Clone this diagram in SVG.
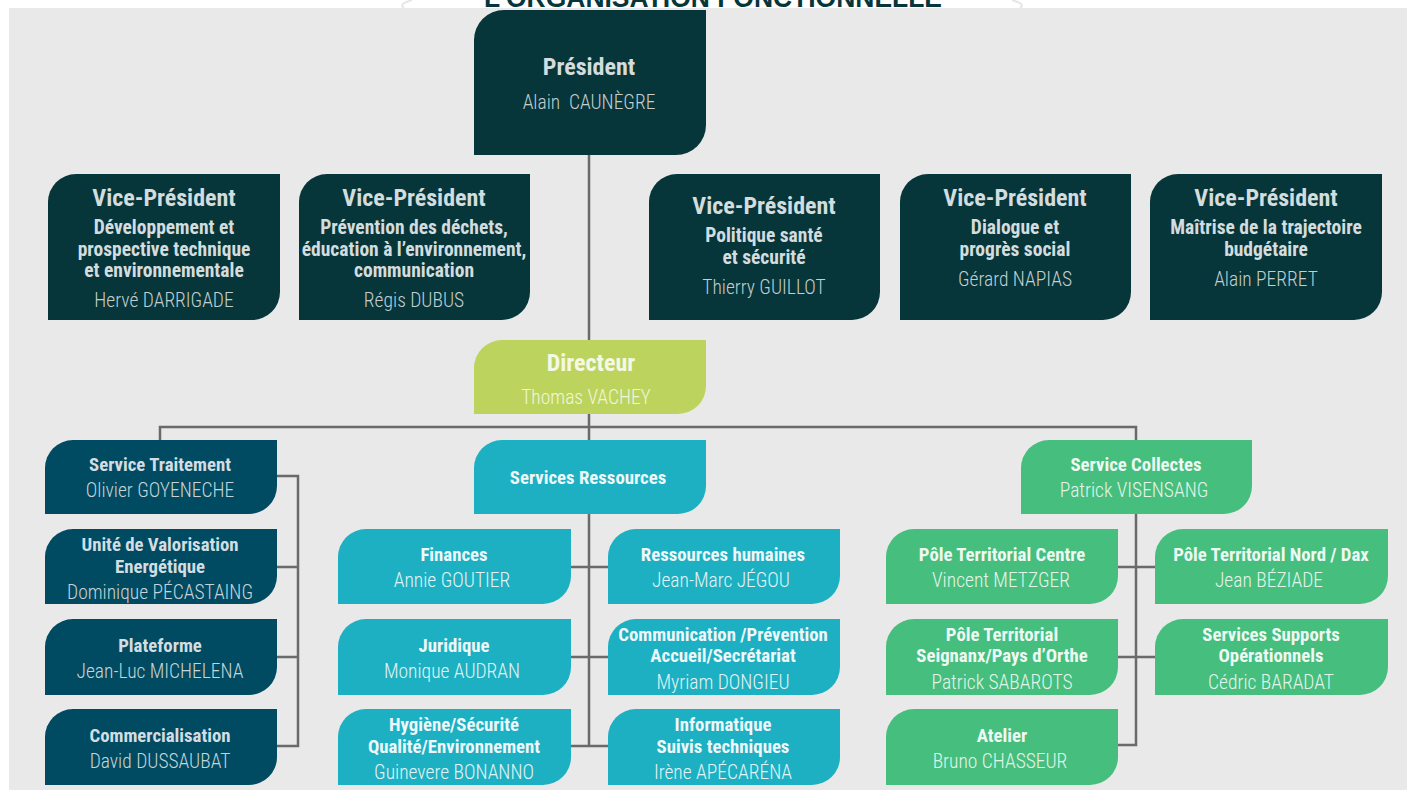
<svg xmlns="http://www.w3.org/2000/svg" width="1407" height="796" viewBox="0 0 1407 796">
<style>
text{font-family:"Liberation Sans Narrow","Roboto Condensed","Liberation Sans",Arial,sans-serif;text-anchor:middle}
.t{font-weight:bold;font-size:24px}
.s{font-weight:bold;font-size:18.8px}
.vp .s{font-size:19.5px}
.n{font-size:19.5px;font-weight:300}
.vp path,.pres path{fill:#07363a}
.vp .t,.vp .s,.pres .t{fill:#d3dcde}
.vp .n,.pres .n{fill:#c3ced0}
.trt path{fill:#004b61}
.trt .s{fill:#d3dde2}
.trt .n{fill:#c7d3d8}
.res path{fill:#1cb0c2}
.res .s{fill:#eef8fa}
.res .n{fill:#e2f3f6}
.col path{fill:#46be7e}
.col .s{fill:#eef9f3}
.col .n{fill:#e3f5ea}
.dir path{fill:#bcd45e}
.dir .t{fill:#f4f8e6}
.dir .n{fill:#f0f6dc}
.conn{fill:none;stroke:#6a6a6a;stroke-width:2.5}
.title{font-family:"Liberation Sans",Arial,sans-serif;font-weight:bold;font-size:27px;fill:#07363a}
</style>
<rect x="0" y="0" width="1407" height="796" fill="#ffffff"/>
<g id="banner">
<path d="M412,0 Q398,4 404,8 M1012,0 Q1026,4 1020,8" fill="none" stroke="#e6e6e6" stroke-width="2"/>
<text class="title" x="713" y="7" textLength="458" lengthAdjust="spacingAndGlyphs">L’ORGANISATION FONCTIONNELLE</text>
</g>
<rect x="9" y="8" width="1398" height="782" fill="#e9e9e9"/>

<g id="connectors" class="conn">
<path d="M589,155 V340"/>
<path d="M589,414 V746"/>
<path d="M160,440 V427 H1136 V440"/>
<path d="M276,476 H298 V746 H277 M277,567 H298 M277,657 H298"/>
<path d="M571,567 H608 M571,657 H608 M571,746 H608"/>
<path d="M1136,514 V745 H1118 M1118,567 H1155 M1118,657 H1155"/>
</g>

<g id="president" class="pres">
<path d="M474,40 A30,30 0 0 1 504,10 H706 V125 A30,30 0 0 1 676,155 H474 Z"/>
<text class="t" x="589" y="75">Président</text>
<text class="n" x="589" y="109">Alain&#160; CAUNÈGRE</text>
</g>

<g id="vp1" class="vp">
<path d="M48,202 A28,28 0 0 1 76,174 H280 V292 A28,28 0 0 1 252,320 H48 Z"/>
<text class="t" x="164" y="206">Vice-Président</text>
<text class="s" x="164" y="234">Développement et</text>
<text class="s" x="164" y="256">prospective technique</text>
<text class="s" x="164" y="277">et environnementale</text>
<text class="n" x="164" y="307">Hervé DARRIGADE</text>
</g>
<g id="vp2" class="vp">
<path d="M299,202 A28,28 0 0 1 327,174 H530 V292 A28,28 0 0 1 502,320 H299 Z"/>
<text class="t" x="414" y="206">Vice-Président</text>
<text class="s" x="414" y="234">Prévention des déchets,</text>
<text class="s" x="414" y="256">éducation à l’environnement,</text>
<text class="s" x="414" y="277">communication</text>
<text class="n" x="414" y="307">Régis DUBUS</text>
</g>
<g id="vp3" class="vp">
<path d="M649,202 A28,28 0 0 1 677,174 H880 V292 A28,28 0 0 1 852,320 H649 Z"/>
<text class="t" x="764" y="214">Vice-Président</text>
<text class="s" x="764" y="242">Politique santé</text>
<text class="s" x="764" y="264">et sécurité</text>
<text class="n" x="764" y="294">Thierry GUILLOT</text>
</g>
<g id="vp4" class="vp">
<path d="M900,202 A28,28 0 0 1 928,174 H1131 V292 A28,28 0 0 1 1103,320 H900 Z"/>
<text class="t" x="1015" y="206">Vice-Président</text>
<text class="s" x="1015" y="234">Dialogue et</text>
<text class="s" x="1015" y="256">progrès social</text>
<text class="n" x="1015" y="286">Gérard NAPIAS</text>
</g>
<g id="vp5" class="vp">
<path d="M1150,202 A28,28 0 0 1 1178,174 H1382 V292 A28,28 0 0 1 1354,320 H1150 Z"/>
<text class="t" x="1266" y="206">Vice-Président</text>
<text class="s" x="1266" y="234">Maîtrise de la trajectoire</text>
<text class="s" x="1266" y="256">budgétaire</text>
<text class="n" x="1266" y="286">Alain PERRET</text>
</g>

<g id="directeur" class="dir">
<path d="M474,368 A28,28 0 0 1 502,340 H706 V386 A28,28 0 0 1 678,414 H474 Z"/>
<text class="t" x="591" y="371">Directeur</text>
<text class="n" x="586" y="404">Thomas VACHEY</text>
</g>

<g id="service-traitement" class="trt">
<path d="M45,468 A28,28 0 0 1 73,440 H277 V486 A28,28 0 0 1 249,514 H45 Z"/>
<text class="s" x="160" y="471">Service Traitement</text>
<text class="n" x="160" y="497">Olivier GOYENECHE</text>
</g>
<g id="uve" class="trt">
<path d="M45,557 A28,28 0 0 1 73,529 H277 V576 A28,28 0 0 1 249,604 H45 Z"/>
<text class="s" x="160" y="551">Unité de Valorisation</text>
<text class="s" x="160" y="573">Energétique</text>
<text class="n" x="160" y="599">Dominique PÉCASTAING</text>
</g>
<g id="plateforme" class="trt">
<path d="M45,647 A28,28 0 0 1 73,619 H277 V667 A28,28 0 0 1 249,695 H45 Z"/>
<text class="s" x="160" y="652">Plateforme</text>
<text class="n" x="160" y="678">Jean-Luc MICHELENA</text>
</g>
<g id="commercialisation" class="trt">
<path d="M45,737 A28,28 0 0 1 73,709 H277 V757 A28,28 0 0 1 249,785 H45 Z"/>
<text class="s" x="160" y="742">Commercialisation</text>
<text class="n" x="160" y="768">David DUSSAUBAT</text>
</g>

<g id="services-ressources" class="res">
<path d="M474,468 A28,28 0 0 1 502,440 H706 V486 A28,28 0 0 1 678,514 H474 Z"/>
<text class="s" x="588" y="484">Services Ressources</text>
</g>
<g id="finances" class="res">
<path d="M338,557 A28,28 0 0 1 366,529 H571 V576 A28,28 0 0 1 543,604 H338 Z"/>
<text class="s" x="454" y="561">Finances</text>
<text class="n" x="452" y="587">Annie GOUTIER</text>
</g>
<g id="rh" class="res">
<path d="M608,557 A28,28 0 0 1 636,529 H840 V576 A28,28 0 0 1 812,604 H608 Z"/>
<text class="s" x="723" y="561">Ressources humaines</text>
<text class="n" x="721" y="587">Jean-Marc JÉGOU</text>
</g>
<g id="juridique" class="res">
<path d="M338,647 A28,28 0 0 1 366,619 H571 V667 A28,28 0 0 1 543,695 H338 Z"/>
<text class="s" x="454" y="652">Juridique</text>
<text class="n" x="452" y="678">Monique AUDRAN</text>
</g>
<g id="communication" class="res">
<path d="M608,647 A28,28 0 0 1 636,619 H840 V667 A28,28 0 0 1 812,695 H608 Z"/>
<text class="s" x="723" y="641">Communication /Prévention</text>
<text class="s" x="723" y="662">Accueil/Secrétariat</text>
<text class="n" x="723" y="689">Myriam DONGIEU</text>
</g>
<g id="hse" class="res">
<path d="M338,737 A28,28 0 0 1 366,709 H571 V757 A28,28 0 0 1 543,785 H338 Z"/>
<text class="s" x="454" y="731">Hygiène/Sécurité</text>
<text class="s" x="454" y="753">Qualité/Environnement</text>
<text class="n" x="454" y="779">Guinevere BONANNO</text>
</g>
<g id="informatique" class="res">
<path d="M608,737 A28,28 0 0 1 636,709 H840 V757 A28,28 0 0 1 812,785 H608 Z"/>
<text class="s" x="723" y="731">Informatique</text>
<text class="s" x="723" y="753">Suivis techniques</text>
<text class="n" x="723" y="779">Irène APÉCARÉNA</text>
</g>

<g id="service-collectes" class="col">
<path d="M1021,468 A28,28 0 0 1 1049,440 H1252 V486 A28,28 0 0 1 1224,514 H1021 Z"/>
<text class="s" x="1136" y="471">Service Collectes</text>
<text class="n" x="1134" y="497">Patrick VISENSANG</text>
</g>
<g id="pole-centre" class="col">
<path d="M886,557 A28,28 0 0 1 914,529 H1118 V576 A28,28 0 0 1 1090,604 H886 Z"/>
<text class="s" x="1002" y="561">Pôle Territorial Centre</text>
<text class="n" x="1001" y="587">Vincent METZGER</text>
</g>
<g id="pole-nord" class="col">
<path d="M1155,557 A28,28 0 0 1 1183,529 H1388 V576 A28,28 0 0 1 1360,604 H1155 Z"/>
<text class="s" x="1271" y="561">Pôle Territorial Nord / Dax</text>
<text class="n" x="1269" y="587">Jean BÉZIADE</text>
</g>
<g id="pole-seignanx" class="col">
<path d="M886,647 A28,28 0 0 1 914,619 H1118 V667 A28,28 0 0 1 1090,695 H886 Z"/>
<text class="s" x="1002" y="641">Pôle Territorial</text>
<text class="s" x="1002" y="662">Seignanx/Pays d’Orthe</text>
<text class="n" x="1002" y="689">Patrick SABAROTS</text>
</g>
<g id="supports" class="col">
<path d="M1155,647 A28,28 0 0 1 1183,619 H1388 V667 A28,28 0 0 1 1360,695 H1155 Z"/>
<text class="s" x="1271" y="641">Services Supports</text>
<text class="s" x="1271" y="662">Opérationnels</text>
<text class="n" x="1271" y="689">Cédric BARADAT</text>
</g>
<g id="atelier" class="col">
<path d="M886,737 A28,28 0 0 1 914,709 H1118 V757 A28,28 0 0 1 1090,785 H886 Z"/>
<text class="s" x="1002" y="742">Atelier</text>
<text class="n" x="1000" y="768">Bruno CHASSEUR</text>
</g>
</svg>
